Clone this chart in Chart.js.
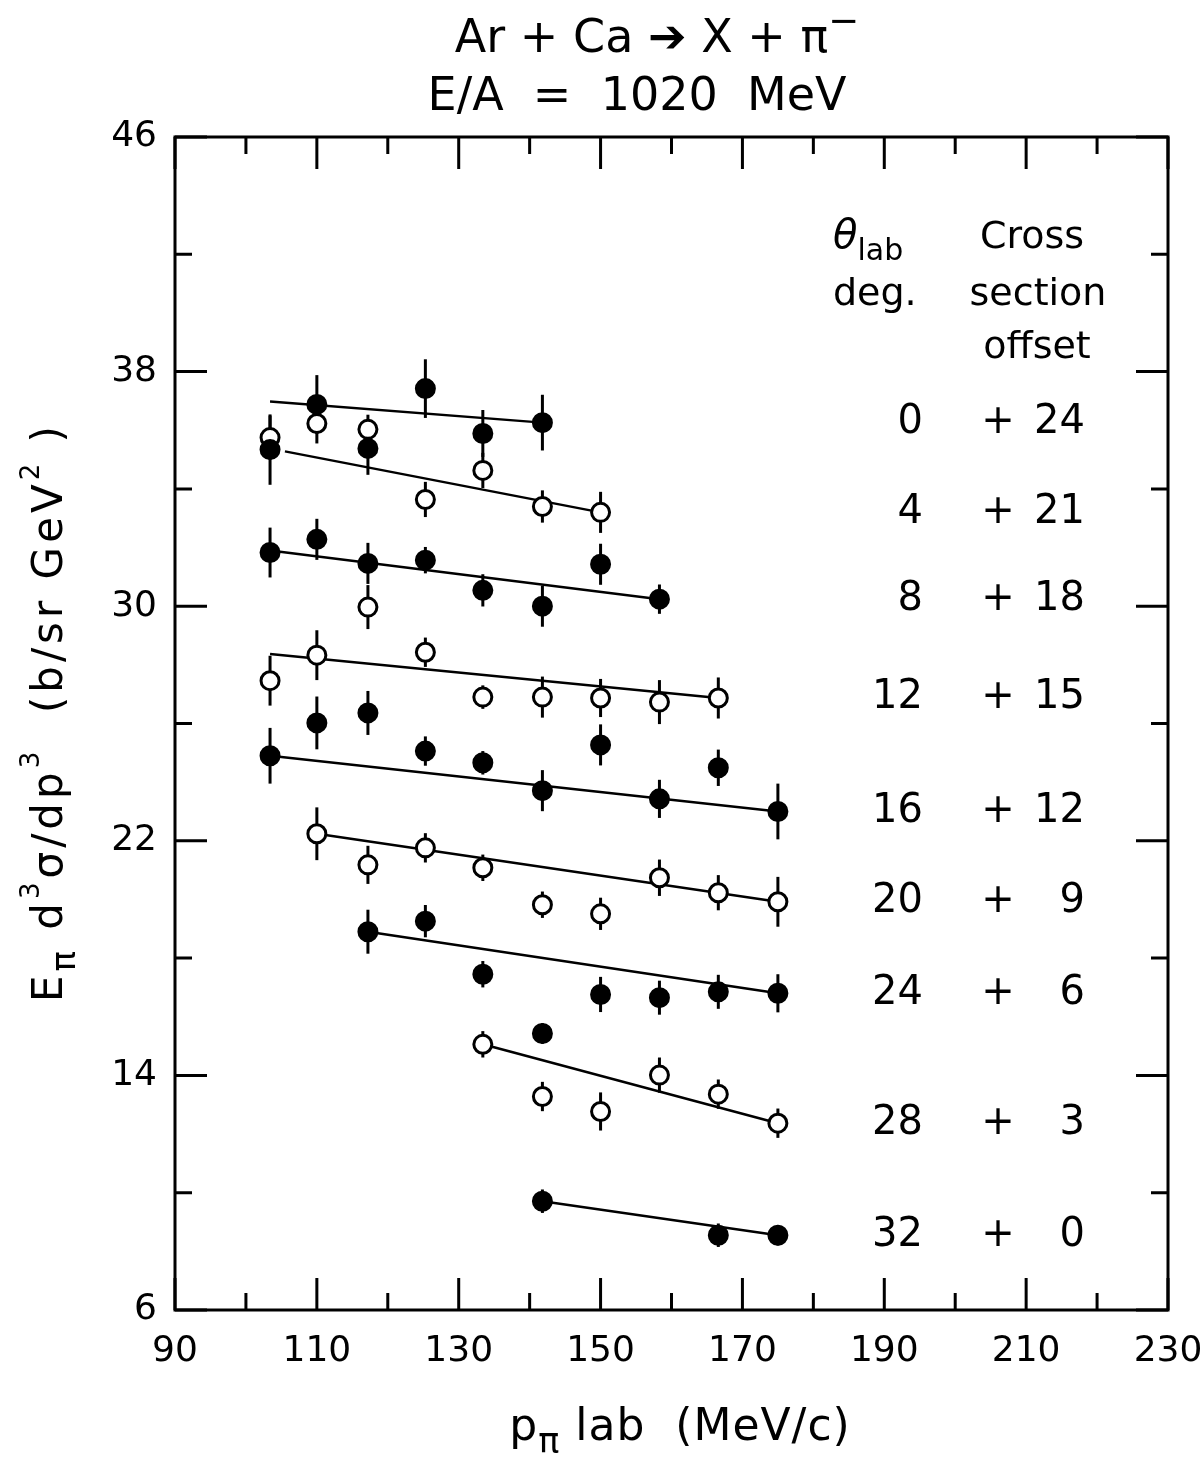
<!DOCTYPE html>
<html>
<head>
<meta charset="utf-8">
<script src="https://cdn.jsdelivr.net/npm/chart.js@4.4.1/dist/chart.umd.min.js"></script>
<style>
  html, body { margin: 0; padding: 0; background: #fff; }
  #wrap { width: 1203px; height: 1459px; position: relative; }
</style>
</head>
<body>
<div id="wrap"><canvas id="c"></canvas></div>
<script>
// pion momentum bins (MeV/c)
var pLab = [103.4, 110, 117.2, 125.3, 133.4, 141.8, 150, 158.3, 166.6, 175];

// lab angles, their cross section offsets, and marker type
var angles  = [0, 4, 8, 12, 16, 20, 24, 28, 32];
var offsets = [24, 21, 18, 15, 12, 9, 6, 3, 0];
var filled  = [true, false, true, false, true, false, true, false, true];

// E d3sigma/dp3 + offset for each angle (null = no measurement)
var sig0  = [35.34, 36.88, 35.38, 37.42, 35.89, 36.26, null, null, null, null];
var sig4  = [35.75, 36.23, 36.03, 33.64, 34.63, 33.40, 33.20, null, null, null];
var sig8  = [31.83, 32.28, 31.46, 31.57, 30.54, 30.00, 31.43, 30.24, null, null];
var sig12 = [27.46, 28.33, 29.97, 28.43, 26.90, 26.90, 26.87, 26.73, 26.87, null];
var sig16 = [24.90, 26.02, 26.36, 25.06, 24.66, 23.71, 25.27, 23.43, 24.49, 23.00];
var sig20 = [null, 22.24, 21.18, 21.76, 21.08, 19.82, 19.51, 20.74, 20.23, 19.92];
var sig24 = [null, null, 18.90, 19.26, 17.45, 15.43, 16.76, 16.65, 16.85, 16.80];
var sig28 = [null, null, null, null, 15.06, 13.28, 12.77, 14.01, 13.36, 12.37];
var sig32 = [null, null, null, null, null, 9.71, null, null, 8.55, 8.55];

// error bar half lengths
var err0  = [1.20, 1.00, 0.90, 1.00, 0.80, 0.95, 0, 0, 0, 0];
var err4  = [0.75, 0.68, 0.50, 0.60, 0.60, 0.55, 0.70, 0, 0, 0];
var err8  = [0.85, 0.70, 0.70, 0.45, 0.55, 0.70, 0.70, 0.50, 0, 0];
var err12 = [0.85, 0.85, 0.75, 0.50, 0.40, 0.70, 0.65, 0.75, 0.70, 0];
var err16 = [0.95, 0.90, 0.75, 0.50, 0.40, 0.70, 0.70, 0.65, 0.62, 0.95];
var err20 = [0, 0.90, 0.65, 0.50, 0.45, 0.45, 0.55, 0.62, 0.60, 0.85];
var err24 = [0, 0, 0.75, 0.55, 0.45, 0.35, 0.60, 0.58, 0.58, 0.65];
var err28 = [0, 0, 0, 0, 0.45, 0.50, 0.65, 0.60, 0.50, 0.50];
var err32 = [0, 0, 0, 0, 0, 0.40, 0, 0, 0.40, 0.35];

// straight line fits: [start, end] as [p, value]
var fit0  = [[103.4, 36.98], [141.8, 36.26]];
var fit4  = [[105.5, 35.28], [150.0, 33.20]];
var fit8  = [[103.4, 31.90], [158.3, 30.24]];
var fit12 = [[103.4, 28.37], [166.6, 26.87]];
var fit16 = [[103.4, 24.90], [175.0, 23.00]];
var fit20 = [[110.0, 22.24], [175.0, 19.92]];
var fit24 = [[117.2, 18.90], [175.0, 16.80]];
var fit28 = [[133.4, 15.06], [175.0, 12.37]];
var fit32 = [[141.8, 9.71], [175.0, 8.55]];

// minor tick positions (majors come from the scales)
var xMinor = [100, 120, 140, 160, 180, 200, 220];
var yMinor = [10, 18, 26, 34, 42];

var sigma = [sig0, sig4, sig8, sig12, sig16, sig20, sig24, sig28, sig32];
var errs  = [err0, err4, err8, err12, err16, err20, err24, err28, err32];
var fits  = [fit0, fit4, fit8, fit12, fit16, fit20, fit24, fit28, fit32];

var FONT = '"DejaVu Sans", sans-serif';

// build datasets
var datasets = [];
sigma.forEach(function (row, k) {
  var pts = [];
  row.forEach(function (v, i) {
    if (v != null) pts.push({ x: pLab[i], y: v });
  });
  datasets.push({
    type: 'scatter',
    label: angles[k] + ' deg',
    data: pts,
    order: 1,
    pointStyle: 'circle',
    pointRadius: 9,
    pointBorderWidth: 3,
    pointBackgroundColor: filled[k] ? '#000' : '#fff',
    pointBorderColor: '#000'
  });
});
fits.forEach(function (f, k) {
  datasets.push({
    type: 'line',
    label: 'fit ' + angles[k],
    data: f.map(function (p) { return { x: p[0], y: p[1] }; }),
    order: 2,
    borderColor: '#000',
    borderWidth: 2.5,
    pointRadius: 0,
    fill: false
  });
});

// draw mixed-size text, segs = [text, size factor, baseline shift in em, style]
function drawRich(ctx, segs, x, y, size, align) {
  function setFont(s) {
    ctx.font = (s[3] ? s[3] + ' ' : '') + Math.round(size * s[1]) + 'px ' + FONT;
  }
  var total = 0;
  segs.forEach(function (s) {
    setFont(s);
    total += ctx.measureText(s[0]).width;
  });
  var cx = x;
  if (align === 'center') cx = x - total / 2;
  if (align === 'right') cx = x - total;
  ctx.textAlign = 'left';
  segs.forEach(function (s) {
    setFont(s);
    ctx.fillText(s[0], cx, y - s[2] * size);
    cx += ctx.measureText(s[0]).width;
  });
}

// vertical error bars, under the markers
var errorBars = {
  id: 'errorBars',
  beforeDatasetsDraw: function (chart) {
    var ctx = chart.ctx, xs = chart.scales.x, ys = chart.scales.y;
    ctx.save();
    ctx.strokeStyle = '#000';
    ctx.lineWidth = 3;
    sigma.forEach(function (row, k) {
      row.forEach(function (v, i) {
        if (v == null || !errs[k][i]) return;
        var px = xs.getPixelForValue(pLab[i]);
        ctx.beginPath();
        ctx.moveTo(px, ys.getPixelForValue(v + errs[k][i]));
        ctx.lineTo(px, ys.getPixelForValue(v - errs[k][i]));
        ctx.stroke();
      });
    });
    ctx.restore();
  }
};

// frame with inward ticks on all four sides
var frameTicks = {
  id: 'frameTicks',
  afterDatasetsDraw: function (chart) {
    var ctx = chart.ctx, a = chart.chartArea;
    var xs = chart.scales.x, ys = chart.scales.y;
    ctx.save();
    ctx.strokeStyle = '#000';
    ctx.lineWidth = 3;
    ctx.strokeRect(a.left, a.top, a.right - a.left, a.bottom - a.top);
    function xt(v, len) {
      var px = xs.getPixelForValue(v);
      ctx.beginPath();
      ctx.moveTo(px, a.bottom); ctx.lineTo(px, a.bottom - len);
      ctx.moveTo(px, a.top); ctx.lineTo(px, a.top + len);
      ctx.stroke();
    }
    function yt(v, len) {
      var py = ys.getPixelForValue(v);
      ctx.beginPath();
      ctx.moveTo(a.left, py); ctx.lineTo(a.left + len, py);
      ctx.moveTo(a.right, py); ctx.lineTo(a.right - len, py);
      ctx.stroke();
    }
    xs.ticks.forEach(function (t) { xt(t.value, 32); });
    xMinor.forEach(function (v) { xt(v, 17); });
    ys.ticks.forEach(function (t) { yt(t.value, 32); });
    yMinor.forEach(function (v) { yt(v, 17); });
    ctx.restore();
  }
};

// titles and the angle / offset table
var texts = {
  id: 'texts',
  afterDraw: function (chart) {
    var ctx = chart.ctx, ys = chart.scales.y;
    ctx.save();
    ctx.fillStyle = '#000';
    ctx.textBaseline = 'alphabetic';

    // title
    drawRich(ctx, [['Ar + Ca ', 1, 0], ['➔', 1, 0], [' X + π', 1, 0], ['−', 0.8, 0.42]], 657, 52, 46, 'center');
    drawRich(ctx, [['E/A  =  1020  MeV', 1, 0]], 637, 110, 46, 'center');

    // x title
    ctx.letterSpacing = '1px';
    drawRich(ctx, [['p', 1, 0], ['π', 0.8, -0.3], [' lab  (MeV/c)', 1, 0]], 680, 1440, 44, 'center');

    // y title, rotated
    ctx.save();
    ctx.letterSpacing = '4px';
    ctx.translate(47, 712);
    ctx.rotate(-Math.PI / 2);
    drawRich(ctx, [['E', 1, 0], ['π', 0.8, -0.3], [' d', 1, 0], ['3', 0.62, 0.55],
                   ['σ/dp', 1, 0], ['3', 0.62, 0.55], ['  (b/sr GeV', 1, 0], ['2', 0.62, 0.55], [' )', 1, 0]],
             0, 15, 42, 'center');
    ctx.restore();
    ctx.letterSpacing = '0px';

    // table header
    drawRich(ctx, [['θ', 1, 0, 'italic'], ['lab', 0.75, -0.3]], 833, 248, 40, 'left');
    drawRich(ctx, [['deg.', 1, 0]], 833, 305, 38, 'left');
    drawRich(ctx, [['Cross', 1, 0]], 1032, 248, 38, 'center');
    drawRich(ctx, [['section', 1, 0]], 1038, 305, 38, 'center');
    drawRich(ctx, [['offset', 1, 0]], 1037, 358, 38, 'center');

    // table rows, level with each fit line's end
    ctx.textBaseline = 'middle';
    angles.forEach(function (ang, k) {
      var py = ys.getPixelForValue(fits[k][1][1]);
      drawRich(ctx, [[String(ang), 1, 0]], 923, py, 40, 'right');
      drawRich(ctx, [['+', 1, 0]], 998, py, 40, 'center');
      drawRich(ctx, [[String(offsets[k]), 1, 0]], 1085, py, 40, 'right');
    });
    ctx.restore();
  }
};

new Chart(document.getElementById('c'), {
  type: 'scatter',
  data: { datasets: datasets },
  options: {
    responsive: true,
    maintainAspectRatio: false,
    animation: false,
    layout: { padding: { top: 137, right: 35, left: 0, bottom: 0 } },
    plugins: {
      legend: { display: false },
      tooltip: { enabled: false },
      title: { display: false }
    },
    scales: {
      x: {
        type: 'linear',
        min: 90, max: 230,
        grid: { display: false },
        border: { display: false },
        ticks: { stepSize: 20, color: '#000', padding: 12, maxRotation: 0, autoSkip: false,
                 font: { family: FONT, size: 36 } },
        afterFit: function (s) { s.height = 149; s.paddingLeft = 0; s.paddingRight = 0; }
      },
      y: {
        type: 'linear',
        min: 6, max: 46,
        grid: { display: false },
        border: { display: false },
        ticks: { stepSize: 8, color: '#000', padding: 10, font: { family: FONT, size: 36 } },
        afterFit: function (s) { s.width = 175; s.paddingTop = 0; s.paddingBottom = 0; }
      }
    }
  },
  plugins: [errorBars, frameTicks, texts]
});
</script>
</body>
</html>
